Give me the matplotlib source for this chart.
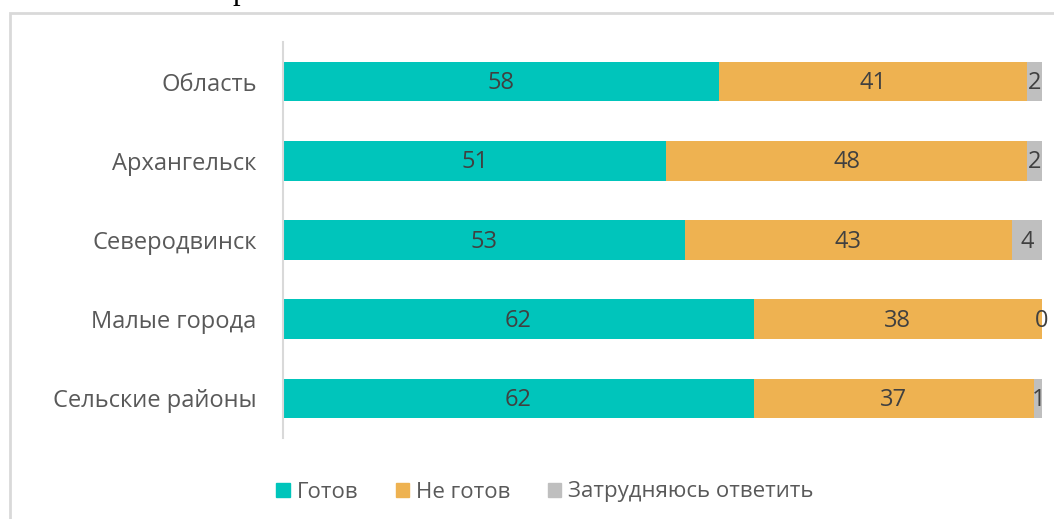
import matplotlib
matplotlib.use("Agg")
import matplotlib.pyplot as plt
import matplotlib.patches as mpatches
import numpy as np

categories = ["Область", "Архангельск", "Северодвинск", "Малые города", "Сельские районы"]
series_names = ["Готов", "Не готов", "Затрудняюсь ответить"]
ready = [58, 51, 53, 62, 62]
not_ready = [41, 48, 43, 38, 37]
hard = [2, 2, 4, 0, 1]
colors = ["#00C5BB", "#EEB251", "#BFBFBF"]

plt.rcParams['font.family'] = ['Open Sans', 'DejaVu Sans']

W, H = 1054, 519
fig = plt.figure(figsize=(W / 100, H / 100), dpi=100)
ax = fig.add_axes([283 / W, 1 - 438 / H, (1042 - 283) / W, (438 - 42) / H])

data = np.array([ready, not_ready, hard], dtype=float)
totals = data.sum(axis=0)
pct = data / totals * 100
y = np.arange(len(categories))
left = np.zeros(len(categories))
for i in range(3):
    ax.barh(y, pct[i], left=left, height=0.5, color=colors[i], label=series_names[i])
    for j in range(len(categories)):
        ax.text(left[j] + pct[i][j] / 2, y[j] + 0.02, f"{int(data[i][j])}",
                ha="center", va="center", fontsize=17, color="#404040")
    left += pct[i]

ax.set_xlim(0, 100)
ax.set_ylim(len(categories) - 0.5, -0.5)
ax.set_yticks(y)
ax.set_yticklabels(categories, fontsize=17, color="#595959")
ax.tick_params(axis="y", length=0, pad=19)
ax.set_xticks([])
for s in ["top", "right", "bottom"]:
    ax.spines[s].set_visible(False)
ax.spines["left"].set_color("#D9D9D9")
ax.spines["left"].set_linewidth(1.5)

handles = [mpatches.Patch(color=c, label=n) for c, n in zip(colors, series_names)]
fig.legend(handles=handles, loc="center", bbox_to_anchor=(545 / W, 1 - 492 / H), ncol=3,
           frameon=False, fontsize=16, labelcolor="#595959", handlelength=0.6,
           handleheight=0.6, handletextpad=0.3, columnspacing=1.7)

# outer chart frame (partially visible)
frame = mpatches.Rectangle((10 / W, -0.1), 1.2, 1 - 13 / H + 0.1, transform=fig.transFigure,
                           fill=False, edgecolor="#D9D9D9", linewidth=2, clip_on=False)
fig.patches.append(frame)

# cut-off title above the chart area
fig.text(240 / W, 1 + 1 / H, "р", fontsize=22, family="Liberation Serif", color="black",
         ha="center", va="baseline")

fig.savefig("out.png", dpi=100)
